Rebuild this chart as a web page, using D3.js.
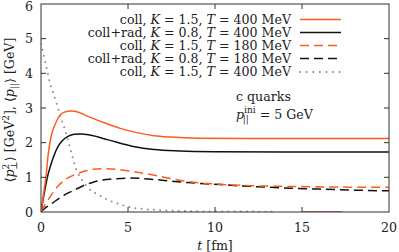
<!DOCTYPE html>
<html>
<head>
<meta charset="utf-8">
<script src="https://cdn.jsdelivr.net/npm/d3@7"></script>
<style>
  html, body { margin: 0; padding: 0; background: #fff; }
  svg { display: block; }
  svg text { font-family: "DejaVu Serif", serif; }
</style>
</head>
<body>
<svg id="chart" width="399" height="252"></svg>
<script>
// time points / values
const collK15T400 = [[0,0],[0.2,0.72],[0.3,1.07],[0.4,1.6],[0.59,2.2],[0.79,2.5],[1.07,2.78],[1.35,2.88],[1.7,2.91],[2.2,2.87],[2.7,2.76],[3.5,2.6],[4.5,2.42],[5.5,2.29],[6.5,2.2],[7.5,2.16],[9,2.13],[12,2.12],[20,2.12]];
const radK08T400 = [[0,0],[0.2,0.58],[0.4,1.07],[0.69,1.55],[0.98,1.89],[1.25,2.07],[1.55,2.18],[1.9,2.24],[2.3,2.25],[2.8,2.22],[3.87,2.08],[5.3,1.89],[6.5,1.8],[8,1.76],[10,1.74],[14,1.73],[20,1.73]];
const collK15T180 = [[0,0],[0.23,0.21],[0.5,0.42],[0.8,0.64],[1.38,0.93],[1.95,1.08],[2.53,1.18],[3.0,1.23],[3.6,1.25],[4.5,1.22],[5.2,1.17],[6.44,1.07],[7.5,0.96],[8.4,0.88],[10.3,0.8],[12,0.76],[14,0.74],[17,0.72],[20,0.71]];
const radK08T180 = [[0,0],[0.23,0.11],[0.5,0.2],[0.8,0.31],[1.38,0.5],[1.95,0.64],[2.53,0.78],[3.0,0.86],[3.5,0.92],[4.3,0.96],[5.2,0.98],[6.44,0.94],[7.5,0.89],[8.4,0.85],[10.3,0.79],[12,0.74],[13.7,0.7],[16,0.66],[18,0.63],[20,0.61]];
const pParK15T400 = [[0,4.85],[0.13,4.58],[0.33,4.13],[0.52,3.72],[0.71,3.42],[0.94,3.06],[1.15,2.71],[1.38,2.37],[1.67,1.85],[1.86,1.5],[2.05,1.2],[2.34,0.93],[2.72,0.69],[3.29,0.5],[3.78,0.36],[4.44,0.24],[5,0.15],[6,0.08],[7,0.05],[8,0.03],[10,0.015],[13.6,0.01]];
const stub = [[15,0],[17.3,0]];

const legendLabels = [
  ["coll", "1.5", "400"],
  ["coll+rad", "0.8", "400"],
  ["coll", "1.5", "180"],
  ["coll+rad", "0.8", "180"],
  ["coll", "1.5", "400"]
];
const xTicks = [0, 5, 10, 15, 20];
const yTicks = [0, 1, 2, 3, 4, 5, 6];

const orange = "#ff5a1f";
const dark = "#111";
const grey = "#8c8c8c";

const series = [
  { data: collK15T400, color: orange, dash: null },
  { data: radK08T400, color: dark, dash: null },
  { data: collK15T180, color: orange, dash: "9,5" },
  { data: radK08T180, color: dark, dash: "9,5" },
  { data: pParK15T400, color: grey, dash: "0,6.2", dotted: true }
];

const svg = d3.select("#chart");
const pL = 41, pR = 389, pT = 4, pB = 212;

const x = d3.scaleLinear().domain([0, 20]).range([pL, pR]);
const y = d3.scaleLinear().domain([0, 6]).range([pB, pT]);

const line = d3.line().x(d => x(d[0])).y(d => y(d[1])).curve(d3.curveMonotoneX);

// curves (clip to plot)
svg.append("clipPath").attr("id", "clip")
  .append("rect").attr("x", pL).attr("y", pT).attr("width", pR - pL).attr("height", pB - pT);

const plot = svg.append("g").attr("clip-path", "url(#clip)");

plot.append("path").datum(stub)
  .attr("d", line).attr("fill", "none")
  .attr("stroke", "#b5532a").attr("stroke-width", 1.6);

// draw dotted first so coloured lines sit on top
[4, 3, 2, 1, 0].forEach(i => {
  const s = series[i];
  plot.append("path").datum(s.data)
    .attr("d", line)
    .attr("fill", "none")
    .attr("stroke", s.color)
    .attr("stroke-width", s.dotted ? 2 : 1.5)
    .attr("stroke-linecap", s.dotted ? "round" : "butt")
    .attr("stroke-dasharray", s.dash);
});

// axes with inward ticks on all sides
const axisColor = "#333";
const tk = 5;
const gAx = svg.append("g").attr("stroke", axisColor).attr("stroke-width", 1);
gAx.append("rect").attr("x", pL).attr("y", pT).attr("width", pR - pL).attr("height", pB - pT).attr("fill", "none");

xTicks.slice(1, -1).forEach(t => {
  gAx.append("line").attr("x1", x(t)).attr("x2", x(t)).attr("y1", pB).attr("y2", pB - tk);
  gAx.append("line").attr("x1", x(t)).attr("x2", x(t)).attr("y1", pT).attr("y2", pT + tk);
});
yTicks.slice(1, -1).forEach(t => {
  gAx.append("line").attr("x1", pL).attr("x2", pL + tk).attr("y1", y(t)).attr("y2", y(t));
  gAx.append("line").attr("x1", pR).attr("x2", pR - tk).attr("y1", y(t)).attr("y2", y(t));
});

const fs = 12.6;
svg.append("g").selectAll("text").data(xTicks).join("text")
  .attr("x", d => x(d)).attr("y", 231.5)
  .attr("text-anchor", "middle").attr("font-size", fs).attr("fill", "#222")
  .text(d => d);

svg.append("g").selectAll("text").data(yTicks).join("text")
  .attr("x", 33).attr("y", d => Math.max(y(d) + 4.5, 11))
  .attr("text-anchor", "end").attr("font-size", fs).attr("fill", "#222")
  .text(d => d);

// x title
const xt = svg.append("text").attr("x", 215).attr("y", 249.5)
  .attr("text-anchor", "middle").attr("font-size", fs).attr("fill", "#222");
xt.append("tspan").attr("font-style", "italic").text("t");
xt.append("tspan").text(" [fm]");

// y title
const yt = svg.append("text")
  .attr("transform", "translate(14,110) rotate(-90)")
  .attr("text-anchor", "middle").attr("font-size", fs).attr("fill", "#222");
yt.append("tspan").text("⟨");
yt.append("tspan").attr("font-style", "italic").text("p");
yt.append("tspan").attr("font-size", 9).attr("dy", -5).text("2");
yt.append("tspan").attr("font-size", 9).attr("dx", -6).attr("dy", 8).text("⊥");
yt.append("tspan").attr("dy", -3).text("⟩ [GeV");
yt.append("tspan").attr("font-size", 9).attr("dy", -5).text("2");
yt.append("tspan").attr("dy", 5).text("], ⟨");
yt.append("tspan").attr("font-style", "italic").text("p");
yt.append("tspan").attr("font-size", 9).attr("dy", 3).text("||");
yt.append("tspan").attr("dy", -3).text("⟩ [GeV]");

// legend
const rowY = [19.5, 32.5, 45.5, 58.5, 72];
const lg = svg.append("g");
legendLabels.forEach((l, i) => {
  const t = lg.append("text").attr("x", 291).attr("y", rowY[i] + 4)
    .attr("text-anchor", "end").attr("font-size", fs).attr("fill", "#222");
  t.append("tspan").text(l[0] + ", ");
  t.append("tspan").attr("font-style", "italic").text("K");
  t.append("tspan").text(" = " + l[1] + ", ");
  t.append("tspan").attr("font-style", "italic").text("T");
  t.append("tspan").text(" = " + l[2] + " MeV");
  const s = series[i];
  lg.append("line").attr("x1", 300).attr("x2", 341).attr("y1", rowY[i]).attr("y2", rowY[i])
    .attr("stroke", s.color).attr("stroke-width", s.dotted ? 2 : 1.5)
    .attr("stroke-linecap", s.dotted ? "round" : "butt")
    .attr("stroke-dasharray", s.dotted ? "0,6.6" : (s.dash ? "9,5" : null));
});

// annotation
svg.append("text").attr("x", 236).attr("y", 101).attr("font-size", fs).attr("fill", "#222").text("c quarks");
const pa = svg.append("text").attr("x", 236).attr("y", 119).attr("font-size", fs).attr("fill", "#222");
pa.append("tspan").attr("font-style", "italic").text("p");
pa.append("tspan").attr("font-size", 9).attr("dy", -6).text("ini");
pa.append("tspan").attr("font-size", 9).attr("dx", -13).attr("dy", 9).text("||");
pa.append("tspan").attr("dx", 7).attr("dy", -3).text(" = 5 GeV");
</script>
</body>
</html>
